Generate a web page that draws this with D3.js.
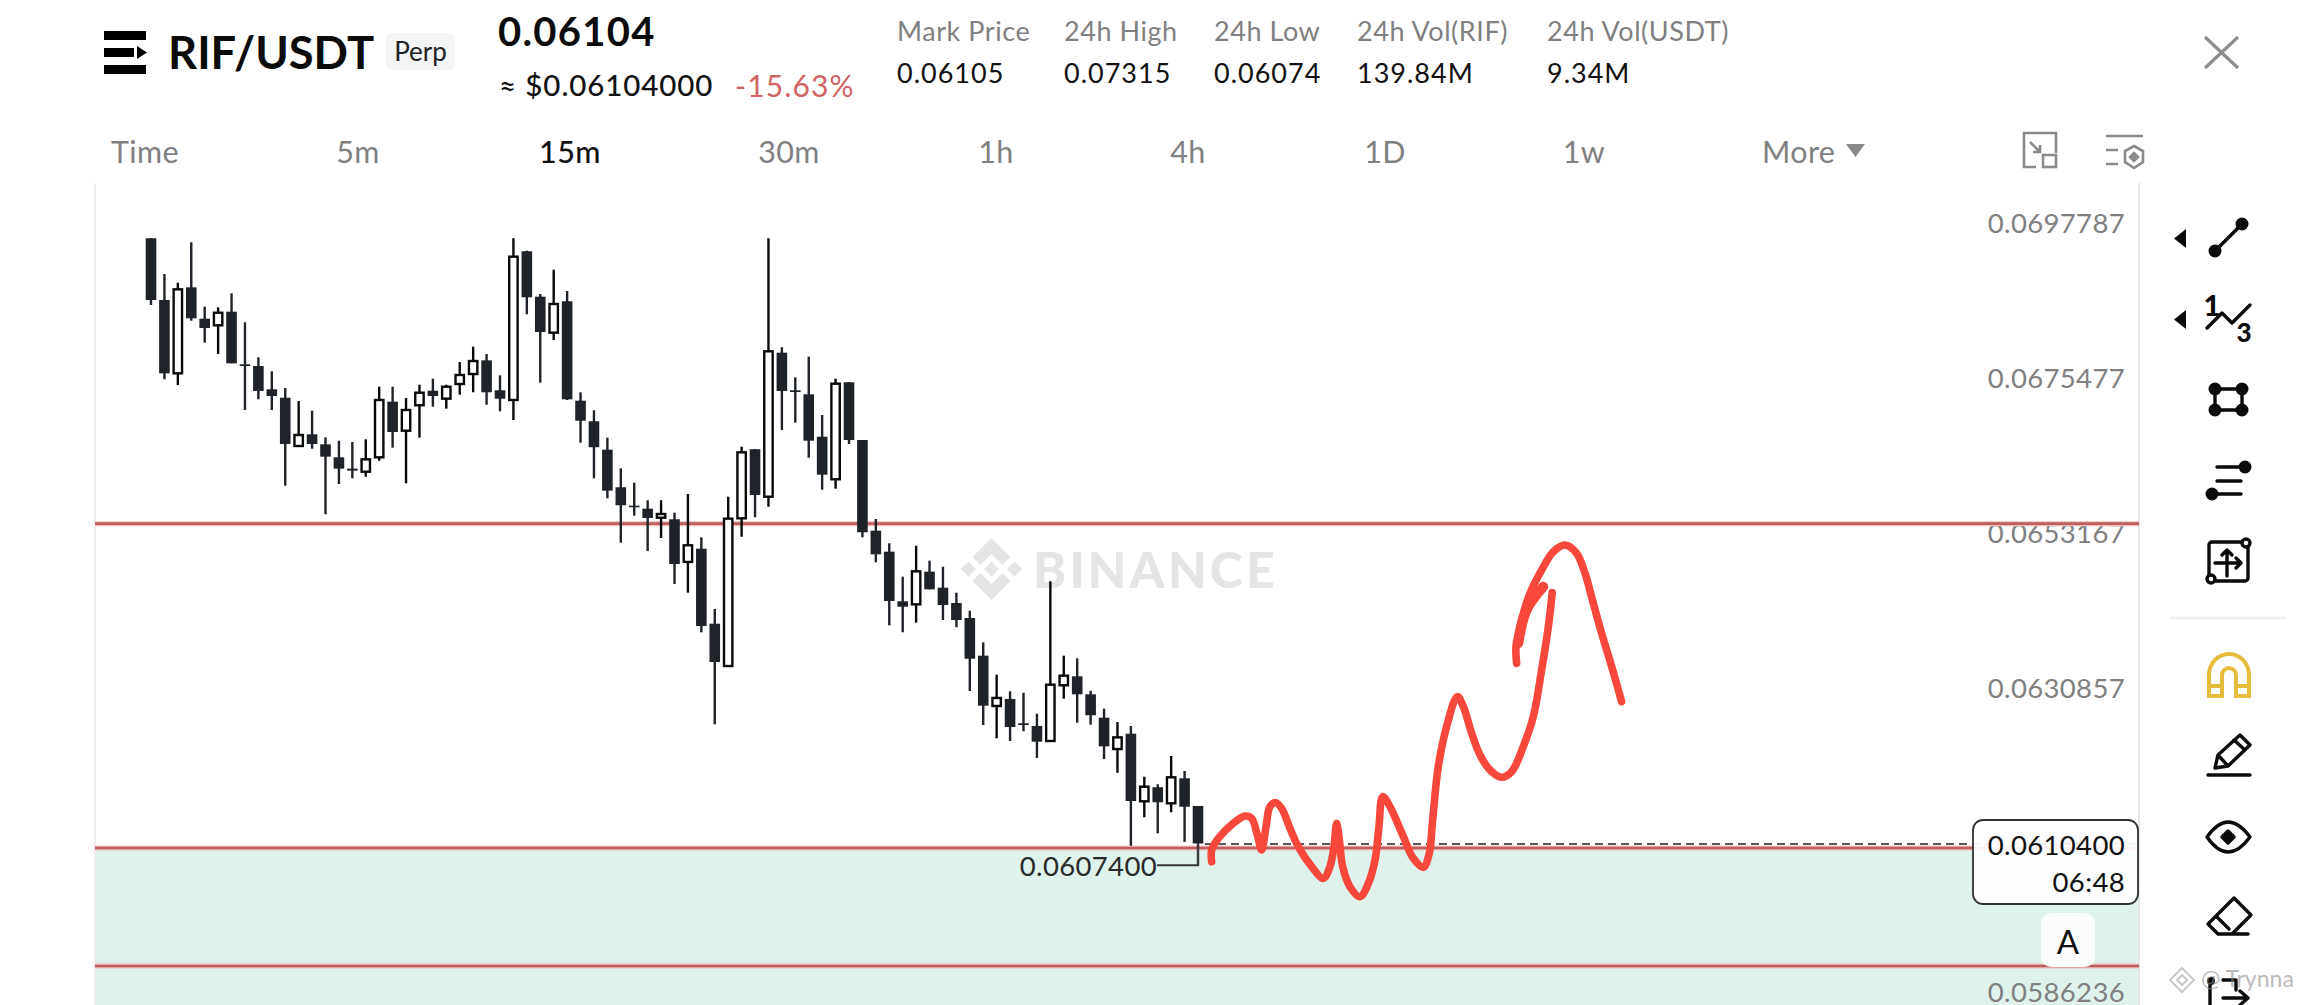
<!DOCTYPE html>
<html><head><meta charset="utf-8">
<script src="https://cdn.jsdelivr.net/npm/d3@7/dist/d3.min.js"></script>
<style>html,body{margin:0;padding:0;background:#fff;overflow:hidden}svg{display:block}text{font-family:Lato,"Open Sans",sans-serif}</style>
</head><body><svg id="c" width="2316" height="1005"></svg>
<script>
const opens=[.069559,.068670,.067615,.068853,.068401,.068306,.068502,.067745,.067720,.067385,.067264,.066569,.066737,.066593,.066406,.066243,.066199,.066406,.067207,.066789,.067155,.067365,.067250,.067461,.067605,.067802,.067371,.067231,.069372,.068718,.068200,.068652,.067221,.066925,.066516,.065975,.065710,.065667,.065537,.065514,.064900,.065091,.064011,.063402,.065528,.066522,.065839,.067912,.067371,.067313,.066703,.066090,.067486,.066655,.065350,.065048,.064334,.064290,.064760,.064529,.064309,.064093,.063551,.062827,.062927,.062578,.062539,.062323,.063125,.063254,.062995,.062658,.062207,.062428,.061455,.061657,.061426,.061786,.061387];
const closes=[.068670,.067615,.068824,.068407,.068267,.068487,.067759,.067720,.067361,.067289,.066598,.066727,.066598,.066415,.066243,.066214,.066377,.067231,.066771,.067087,.067336,.067289,.067422,.067591,.067792,.067342,.067250,.069294,.068709,.068210,.068613,.067241,.066933,.066551,.065926,.065716,.065687,.065533,.065590,.064871,.065140,.063978,.063460,.065523,.066478,.065864,.067932,.067361,.067346,.066645,.066156,.067466,.066655,.065327,.065010,.064338,.064256,.064765,.064506,.064280,.064065,.063507,.062831,.062942,.062524,.062553,.062313,.063133,.063263,.062995,.062693,.062246,.062375,.061459,.061665,.061441,.061800,.061377,.060848];
const highs=[.069559,.069045,.068919,.069501,.068574,.068565,.068766,.068349,.067845,.067644,.067404,.067217,.067077,.066694,.066645,.066627,.066665,.067423,.067423,.067260,.067451,.067538,.067451,.067778,.067999,.067893,.067586,.069559,.069380,.068757,.069107,.068800,.067342,.067083,.066689,.066248,.066041,.065788,.065788,.065609,.065878,.065255,.064223,.065839,.066559,.066526,.069559,.067990,.067557,.067855,.067015,.067538,.067490,.066655,.065518,.065169,.064688,.065134,.064918,.064832,.064457,.064198,.063743,.063277,.063038,.063018,.062716,.064622,.063551,.063513,.063046,.062788,.062596,.062539,.061809,.061700,.062107,.061891,.061387];
const lows=[.068598,.067529,.067447,.068372,.068056,.067893,.067759,.067087,.067241,.067087,.065998,.066559,.066530,.065586,.066022,.066104,.066127,.066357,.066545,.066032,.066689,.067135,.067106,.067307,.067342,.067163,.067068,.066943,.068465,.067480,.068095,.067231,.066616,.066104,.065816,.065177,.065566,.065058,.065245,.064583,.064458,.063887,.062563,.063402,.065263,.065543,.065695,.066800,.066904,.066400,.065940,.065955,.066598,.065255,.064895,.063988,.063888,.064026,.064506,.064065,.063960,.063042,.062553,.062362,.062323,.062463,.062079,.062323,.062932,.062586,.062558,.062063,.061866,.060816,.061225,.060994,.061297,.060870,.060536];
const tickValues=[0.0697787,0.0675477,0.0653167,0.0630857,0.0608546,0.0586236];
const resistanceLevel=0.065451, supportLevel=0.060783, lowerLevel=0.059084, lastLevel=0.060841;
const sketchA=[[79.02,.060586],[79.02,.060754],[79.52,.060922],[80.63,.061138],[81.50,.061243],[82.00,.061210],[82.42,.060970],[82.74,.060754],[83.07,.061090],[83.36,.061378],[83.79,.061435],[84.23,.061354],[84.85,.061066],[85.47,.060802],[86.47,.060514],[87.34,.060346],[87.83,.060514],[88.13,.060802],[88.33,.061138],[88.53,.060898],[88.78,.060514],[89.32,.060226],[90.07,.060082],[90.69,.060274],[91.19,.060610],[91.48,.061090],[91.76,.061522],[92.30,.061378],[93.30,.060946],[94.04,.060634],[94.79,.060504],[95.23,.060706],[95.48,.061186],[95.90,.061954],[96.52,.062529],[97.32,.062961],[97.77,.062817],[98.39,.062433],[99.01,.062121],[99.75,.061906],[100.62,.061800],[101.37,.061882],[102.23,.062241],[102.98,.062673],[103.60,.063345],[104.10,.063969],[104.39,.064458]];
const sketchB=[[101.74,.063441],[101.69,.063681],[102.11,.064065],[102.73,.064448],[103.60,.064784],[104.47,.065048],[105.34,.065144],[106.21,.065024],[106.83,.064736],[107.45,.064304],[108.07,.063873],[108.82,.063393],[109.56,.062889]];
const sketchC=[[101.86,.063729],[102.48,.064209],[103.72,.064544]];
const statLabels=["Mark Price","24h High","24h Low","24h Vol(RIF)","24h Vol(USDT)"];
const statValues=["0.06105","0.07315","0.06074","139.84M","9.34M"];
const tabLabels=["Time","5m","15m","30m","1h","4h","1D","1w"];

const svg=d3.select("#c");
const x=d3.scaleLinear().domain([0,78]).range([151,1198]);
const y=d3.scaleLinear().domain([0.0586236,0.0697787]).range([998,223]);
const L=95,R=2139,W=2316,H=1005;
const BULL="#0a0a0a",BEAR="#1e2329",RED="#bb5f5f",GR="#808080";
const tx=(t,xx,yy,o={})=>svg.append("text").text(t).attr("x",xx).attr("y",yy).attr("dy",".35em")
  .attr("font-size",o.s||26).attr("fill",o.c||"#111").attr("font-weight",o.w||400).attr("text-anchor",o.a||"start")
  .attr("letter-spacing",o.ls||0);

// chart background
svg.append("rect").attr("x",L).attr("y",y(supportLevel)).attr("width",R-L).attr("height",H-y(supportLevel)).attr("fill","#dff3ec");
svg.append("line").attr("x1",L).attr("x2",L).attr("y1",183).attr("y2",H).attr("stroke","#eeeeee").attr("stroke-width",2);
svg.append("line").attr("x1",R).attr("x2",R).attr("y1",183).attr("y2",H).attr("stroke","#e6e6e6").attr("stroke-width",2);

// watermark
const wm=svg.append("g").attr("fill","#e5e5e5");
wm.append("text").text("BINANCE").attr("x",1033).attr("y",588).attr("font-size",50).attr("font-weight",900).attr("letter-spacing",3.2);
const lg=wm.append("g").attr("transform","translate(991.5,569)");
lg.append("path").attr("d","M0-31L19-12L11-4L0-15L-11-4L-19-12Z M0 31L19 12L11 4L0 15L-11 4L-19 12Z M-31 0L-23-7.5L-15.5 0L-23 7.5Z M31 0L23-7.5L15.5 0L23 7.5Z M0-7.5L7.5 0L0 7.5L-7.5 0Z");

// axis labels
const axis=svg.append("g").attr("transform","translate(2125,0)")
  .call(d3.axisLeft(y).tickValues(tickValues).tickFormat(d3.format(".7f")).tickSize(0).tickPadding(0));
axis.select(".domain").remove();
axis.selectAll("text").attr("font-size",27.5).attr("letter-spacing",.35).attr("fill",GR).attr("font-family","Lato");
axis.selectAll(".tick").filter(d=>d<0.061).select("text").attr("y",-5);
axis.selectAll(".tick").filter(d=>d>0.06).select("text").attr("y",1);

// level lines
[resistanceLevel,supportLevel,lowerLevel].forEach(v=>{
  svg.append("line").attr("x1",L).attr("x2",R).attr("y1",y(v)).attr("y2",y(v)).attr("stroke","#f2bcbc").attr("stroke-width",5);
  svg.append("line").attr("x1",L).attr("x2",R).attr("y1",y(v)).attr("y2",y(v)).attr("stroke",RED).attr("stroke-width",2.6);
});
svg.append("line").attr("x1",x(78)+7).attr("x2",R).attr("y1",y(lastLevel)).attr("y2",y(lastLevel))
  .attr("stroke","#222").attr("stroke-width",1.6).attr("stroke-dasharray","8 5");

// candles
const idx=d3.range(opens.length);
const g=svg.append("g");
g.selectAll("line.w").data(idx).join("line").attr("class","w")
  .attr("x1",i=>x(i)).attr("x2",i=>x(i)).attr("y1",i=>y(highs[i])).attr("y2",i=>y(lows[i]))
  .attr("stroke",i=>closes[i]>opens[i]?BULL:BEAR).attr("stroke-width",2.4);
g.selectAll("rect.b").data(idx).join("rect").attr("class","b")
  .each(function(i){
    const up=closes[i]>opens[i];
    const t=y(Math.max(opens[i],closes[i])),b=y(Math.min(opens[i],closes[i]));
    const hw=up?4.2:5.3;
    d3.select(this).attr("x",x(i)-hw).attr("width",hw*2).attr("y",t).attr("height",Math.max(b-t,1.5))
      .attr("fill",up?"#fff":BEAR).attr("stroke",up?BULL:"none").attr("stroke-width",up?2.4:0);
  });

// low marker
const lowY=y(lows[78]);
svg.append("path").attr("d",`M${x(78)} ${y(closes[78])}V${lowY}H1157`).attr("fill","none").attr("stroke","#3a3a3a").attr("stroke-width",2);
tx("0.0607400",1157,lowY+1.5,{s:27.5,ls:.35,c:"#2a2a2a",a:"end"});

// hand drawing
const sk=d3.line().x(d=>x(d[0])).y(d=>y(d[1])).curve(d3.curveCatmullRom.alpha(.5));
[[sketchA,7.6],[sketchB,7.6],[sketchC,10]].forEach(([s,w])=>svg.append("path").attr("d",sk(s)).attr("fill","none")
  .attr("stroke","#f8483b").attr("stroke-width",w).attr("stroke-linecap","round").attr("stroke-linejoin","round"));

// price box
svg.append("rect").attr("x",1973).attr("y",820).attr("width",165).attr("height",84).attr("rx",10)
  .attr("fill","rgba(255,255,255,.93)").attr("stroke","#333").attr("stroke-width",1.8);
tx("0.0610400",2125,845,{s:27.5,ls:.35,a:"end",c:"#111"});
tx("06:48",2125,882,{s:27.5,ls:.35,a:"end",c:"#111"});
svg.append("rect").attr("x",2041).attr("y",913).attr("width",54).attr("height",54).attr("rx",10).attr("fill","#fbfdfc");
tx("A",2068,942,{s:33,a:"middle",c:"#111"});

// header
const hdr=svg.append("g").attr("fill","#000");
[[31,9],[48,9],[65,9]].forEach(([yy,h],i)=>hdr.append("rect").attr("x",104).attr("y",yy).attr("width",i==1?30:42).attr("height",h));
hdr.append("path").attr("d","M137 46L147 52.5L137 59Z");
tx("RIF/USDT",168,53,{s:45.3,w:700,c:"#0b0b0b"});
svg.append("rect").attr("x",386).attr("y",33).attr("width",69).attr("height",37).attr("rx",6).attr("fill","#f4f6f5");
tx("Perp",420.5,52,{s:26,a:"middle",c:"#222"});
tx("0.06104",498,32,{s:40,ls:1.3,w:700,c:"#0b0b0b"});
tx("≈ $0.06104000",499,86,{s:29.5,ls:.9,c:"#111",w:500});
tx("-15.63%",735,86,{s:30,ls:1.1,c:"#d06464"});
const sx=[897,1064,1214,1357,1547];
statLabels.forEach((t,i)=>tx(t,sx[i],32,{s:27,ls:.55,c:GR}));
statValues.forEach((t,i)=>tx(t,sx[i],74,{s:27,ls:1,c:"#111"}));
svg.append("path").attr("d","M2205 37L2238 68M2238 37L2205 68").attr("stroke","#8d8d8d").attr("stroke-width",3.2);

// tabs
const tabX=[145,358,570,789,996,1188,1385,1584];
tabLabels.forEach((t,i)=>tx(t,tabX[i],152,{s:30.5,ls:.4,a:"middle",c:t==="15m"?"#111":GR,w:t==="15m"?500:400}));
tx("More",1762,152,{s:30.5,ls:.4,c:GR});
svg.append("path").attr("d","M1846 144H1865L1855.5 157Z").attr("fill","#888");
const ic=svg.append("g").attr("fill","none").attr("stroke","#8a8a8a").attr("stroke-width",2.6);
ic.append("path").attr("d","M2036 133H2024V167H2036M2036 133H2056V153M2030 142L2040 152M2040 145V152H2033");
ic.append("rect").attr("x",2043).attr("y",155).attr("width",13).attr("height",12);
ic.append("path").attr("d","M2106 136H2143M2106 150H2118M2106 164H2118M2134 146L2143 151V162L2134 168L2125 162V151Z");
ic.append("path").attr("d","M2134 153L2138 157L2134 161L2130 157Z").attr("fill","#8a8a8a");

// drawing toolbar
const tb=svg.append("g").attr("fill","none").attr("stroke","#0b0b0b").attr("stroke-width",3.4).attr("stroke-linecap","round").attr("stroke-linejoin","round");
const dot=(a,b,r=6.5)=>tb.append("circle").attr("cx",a).attr("cy",b).attr("r",r).attr("fill","#0b0b0b").attr("stroke","none");
const tri=(t)=>svg.append("path").attr("d",`M2174 ${t+9.5}L2186 ${t}V${t+19}Z`).attr("fill","#0b0b0b");
tri(229);tri(310);
tb.append("path").attr("d","M2215 251L2242 224");dot(2215,251);dot(2242,224);
tb.append("path").attr("d","M2207 328L2222 313L2232 323L2250 305");
tx("1",2212,306,{s:29,w:900,a:"middle",c:"#0b0b0b"});tx("3",2244,333,{s:26,w:900,a:"middle",c:"#0b0b0b"});
tb.append("path").attr("d","M2215 389H2242V410H2215Z");[[2215,389],[2242,389],[2215,410],[2242,410]].forEach(p=>dot(p[0],p[1]));
tb.append("path").attr("d","M2217 467H2245M2217 481H2241M2212 494H2241");dot(2245,467);dot(2212,494);
tb.append("rect").attr("x",2209).attr("y",542).attr("width",39).attr("height",39).attr("rx",3);
tb.append("path").attr("d","M2227 550V576M2215 563H2241M2222 555L2227 550L2232 555M2236 558L2241 563L2236 568");
[[2246,543],[2211,579]].forEach(p=>tb.append("circle").attr("cx",p[0]).attr("cy",p[1]).attr("r",4).attr("fill","#fff"));
svg.append("line").attr("x1",2170).attr("x2",2286).attr("y1",618).attr("y2",618).attr("stroke","#eeeeee").attr("stroke-width",2.5);
svg.append("path").attr("d","M2209 696V675A20 21 0 0 1 2249 675V696H2236V675A7 7 0 0 0 2222 675V696ZM2209 686H2222M2236 686H2249")
  .attr("fill","none").attr("stroke","#e6bc3c").attr("stroke-width",4);
tb.append("path").attr("d","M2215 768L2218 755L2240 735L2250 745L2228 766ZM2218 755L2228 766M2234 740L2245 750");
tb.append("path").attr("d","M2208 775H2250");
tb.append("path").attr("d","M2207 837Q2228 807 2250 837Q2228 867 2207 837Z");
tb.append("path").attr("d","M2228 831L2234 837L2228 843L2222 837Z").attr("fill","#0b0b0b");
tb.append("path").attr("d","M2234 898L2251 915L2232 934H2218L2208 924ZM2216 916L2229 929M2228 934H2248");
tb.append("path").attr("d","M2210 985V1005M2223 980H2236V990M2223 998H2247M2240 991L2248 998L2240 1005");
dot(2211,981,4);
svg.append("path").attr("d","M2182 968L2194 980L2182 992L2170 980ZM2182 975L2187 980L2182 985L2177 980Z").attr("fill","none").attr("stroke","#c9c9c9").attr("stroke-width",2);
tx("@ Trynna",2201,979,{s:23,c:"rgba(140,140,140,.6)"});
</script></body></html>
